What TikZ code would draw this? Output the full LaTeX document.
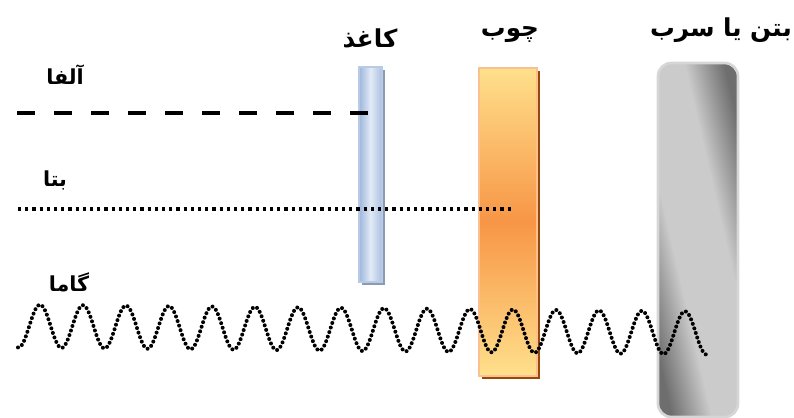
\documentclass[tikz,border=0pt]{standalone}
\usepackage{fontspec}
\newfontfamily\arabicfont[Script=Arabic]{DejaVu Sans}
\TeXXeTstate=1

\definecolor{paperL}{HTML}{9DB6DC}
\definecolor{paperM}{HTML}{E2EAF6}
\definecolor{paperR}{HTML}{A9C0E2}
\definecolor{paperEdge}{HTML}{B9CBE4}
\definecolor{paperShadow}{HTML}{8A9BB3}
\definecolor{woodL}{HTML}{FFE08C}
\definecolor{woodM}{HTML}{F79646}
\definecolor{woodEdge}{HTML}{FAC090}
\definecolor{woodShadow}{HTML}{984807}
\definecolor{leadD}{HTML}{6E6E6E}
\definecolor{leadL}{HTML}{CBCBCB}
\definecolor{leadEdge}{HTML}{D6D6D6}

% gray band running diagonally across the lead/concrete slab
\pgfdeclareverticalshading{leadbar}{100bp}{color(0bp)=(leadD); color(25bp)=(leadD); color(40bp)=(leadL); color(60bp)=(leadL); color(75bp)=(leadD); color(100bp)=(leadD)}

\begin{document}
% one unit is one pixel; y grows upwards, so rows are written as negative values
\begin{tikzpicture}[x=0.75pt,y=0.75pt,
  ptext/.style={font=\arabicfont\bfseries\fontsize{15.5}{18}\selectfont, inner sep=0pt},
  ptitle/.style={font=\arabicfont\bfseries\fontsize{18.5}{22}\selectfont, inner sep=0pt},
  alpharay/.style={line width=3pt, dash pattern=on 13.5pt off 14.25pt},
  betaray/.style={line width=2.4pt, dash pattern=on 2.4pt off 3pt},
  gammaray/.style={line width=3pt, line cap=round, dash pattern=on 0pt off 3.6pt}]
\useasboundingbox (0,0) rectangle (794,-418);

% paper sheet
\fill[paperShadow] (362,-70) rectangle (385,-285);
\shade[left color=paperL, right color=paperR, middle color=paperM, draw=paperEdge, line width=0.8pt]
  (359,-67) rectangle (382,-282);
\node (paper) at (370.5,-174.5) {};

% wooden board
\fill[woodShadow] (482,-71) rectangle (540,-379);
\shade[top color=woodL, bottom color=woodL, middle color=woodM, draw=woodEdge, line width=1.2pt]
  (479,-68) rectangle (537,-376);
\node (wood) at (508,-222) {};

% concrete or lead slab
\shade[shading=leadbar, shading angle=-77, draw=leadEdge, line width=2pt, rounded corners=10pt]
  (658,-63) rectangle (738,-417);
\node (lead) at (698,-240) {};

% labels
\node[ptitle] (paperLbl) at (370,-38) {\beginR کاغذ\endR};
\node[ptitle] (woodLbl) at (510,-35) {\beginR چوب\endR};
\node[ptitle] (leadLbl) at (721,-30) {\beginR بتن یا سرب\endR};
\node[ptext] (alphaLbl) at (65,-75) {\beginR آلفا\endR};
\node[ptext] (betaLbl) at (55,-180) {\beginR بتا\endR};
\node[ptext] (gammaLbl) at (69,-282) {\beginR گاما\endR};

% alpha rays stop in the paper
\coordinate (alphaStart) at (17,-113);
\coordinate (alphaEnd) at (368,-113);
\draw[alpharay] (alphaStart) -- (alphaEnd);

% beta rays stop in the wood
\coordinate (betaStart) at (18,-209);
\coordinate (betaEnd) at (514,-209);
\draw[betaray] (betaStart) -- (betaEnd);

% gamma rays reach the slab
\coordinate (gammaStart) at (18,-347);
\coordinate (gammaEnd) at (707,-354);
\draw[gammaray] plot[domain=18:707, samples=600]
  (\x, {-326-(\x-18)*0.01016 + 21.5*cos((\x-40)*8.3721)});
\end{tikzpicture}
\end{document}
